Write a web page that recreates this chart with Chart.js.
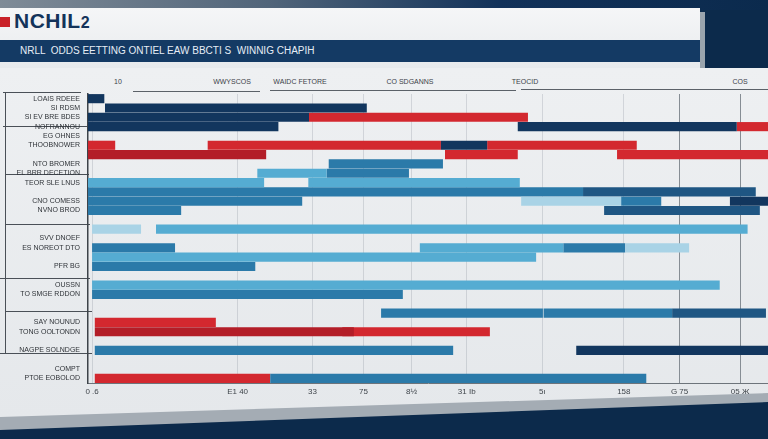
<!DOCTYPE html>
<html>
<head>
<meta charset="utf-8">
<title>NRLL odds chart</title>
<script src="https://cdn.jsdelivr.net/npm/chart.js@4.4.0/dist/chart.umd.min.js"></script>
<style>
  html, body { margin: 0; padding: 0; }
  body { width: 768px; height: 439px; overflow: hidden; position: relative; background: #0c2a4b; font-family: 'Liberation Sans', Arial, sans-serif; }
  .abs { position: absolute; }
  #topstrip { left: 0; top: 0; width: 768px; height: 10px; background: linear-gradient(90deg, #7f8b97 0%, #51657a 35%, #12325a 65%, #0b2a4d 100%); }
  #header { left: 0; top: 8px; width: 700px; height: 62px; background: linear-gradient(180deg, #f5f6f7, #e7eaed); }
  #headerEdge { left: 700px; top: 12px; width: 5px; height: 58px; background: #9aa4ad; }
  #logoBlock { left: 0; top: 17px; width: 10px; height: 10px; background: #c92229; }
  #logo { left: 14px; top: 9px; font: bold 21px 'Liberation Sans', Arial, sans-serif; color: #13335a; letter-spacing: 0.5px; }
  #titlebar { left: 0; top: 40px; width: 700px; height: 22px; background: #143a64; color: #e6edf5; font-size: 10px; line-height: 22px; padding-left: 20px; box-sizing: border-box; white-space: pre; }
  #panelBand { left: 0; top: 68px; width: 768px; height: 362px; background: #a4acb4; clip-path: polygon(0 0, 100% 0, 100% 334px, 0 362px); }
  #panel { left: 0; top: 68px; width: 768px; height: 349px; background: linear-gradient(180deg, #eef0f2, #e5e8eb); clip-path: polygon(0 0, 100% 0, 100% 325px, 0 349px); }
  .hdr { top: 78px; font-size: 7px; color: #3c4248; transform: translateX(-50%); white-space: nowrap; }
  .uline { height: 1px; background: #5b6168; }
  .hline { height: 1px; background: #4a5057; }
  .vline { width: 1px; background: #4a5057; }
  #wrap { left: 0; top: 70px; width: 768px; height: 345px; }
</style>
</head>
<body>
<div class="abs" id="topstrip"></div>
<div class="abs" id="header"></div>
<div class="abs" id="headerEdge"></div>
<div class="abs" id="logoBlock"></div>
<div class="abs" id="logo">NCHIL<span style="font-size:16px">2</span></div>
<div class="abs" id="titlebar">NRLL  ODDS EETTING ONTIEL EAW BBCTI S  WINNIG CHAPIH</div>
<div class="abs" id="panelBand"></div>
<div class="abs" id="panel"></div>

<div class="abs hdr" style="left:118px">10</div>
<div class="abs hdr" style="left:232px">WWYSCOS</div>
<div class="abs hdr" style="left:300px">WAIDC FETORE</div>
<div class="abs hdr" style="left:410px">CO SDGANNS</div>
<div class="abs hdr" style="left:525px">TEOCID</div>
<div class="abs hdr" style="left:740px">COS</div>
<div class="abs uline" style="left:133px; top:91px; width:127px"></div>
<div class="abs uline" style="left:270px; top:90px; width:246px"></div>
<div class="abs uline" style="left:521px; top:89px; width:247px"></div>

<div class="abs hline" style="left:3px; top:92px; width:78px"></div>
<div class="abs hline" style="left:3px; top:126px; width:84px"></div>
<div class="abs hline" style="left:5px; top:174px; width:84px"></div>
<div class="abs hline" style="left:5px; top:224px; width:85px"></div>
<div class="abs hline" style="left:0px; top:278px; width:90px"></div>
<div class="abs hline" style="left:5px; top:311px; width:87px"></div>
<div class="abs hline" style="left:0px; top:353px; width:92px"></div>
<div class="abs vline" style="left:5px; top:92px; height:261px"></div>

<div class="abs" id="wrap"><canvas id="grafico-quote" width="768" height="345"></canvas></div>

<script>
// row labels (left panel), top to bottom
var rowLabels = ['LOAIS RDEEE', 'SI RDSM', 'SI EV BRE BDES', 'NOFRANNOU', 'EG OHNES', 'THOOBNOWER', '',
    'NTO BROMER', 'EL BRR DECETION', 'TEOR SLE LNUS', '', 'CNO COMESS', 'NVNO BROD', '', '',
    'SVV DNOEF', 'ES NOREOT DTO', '', 'PFR BG', '', 'OUSSN', 'TO SMGE RDDON', '', '',
    'SAY NOUNUD', 'TONG OOLTONDN', '', 'NAGPE SOLNDGE', '', 'COMPT', 'PTOE EOBOLOD'];

// bottom axis
var xTickValues = [0.6, 22, 33, 40.5, 47.6, 55.7, 66.8, 78.8, 87, 95.9];
var xTickLabels = ['0 .6', 'E1 40', '33', '75', '8½', '31 Ib', '5ı', '158', 'G 75', '05 Ж'];

// segments: [row, start, end]
var navySegs = [[0, 0, 2.4], [1, 2.5, 41], [2, 0, 32.5], [3, 0, 28], [3, 63.2, 95.4], [5, 51.9, 58.7], [11, 94.4, 100], [27, 71.8, 100]];
var redSegs = [[2, 32.5, 64.7], [3, 95.4, 100], [5, 0, 4], [5, 17.6, 51.9], [5, 58.7, 80.7], [6, 52.5, 63.2], [6, 77.8, 100], [24, 1, 18.8], [25, 37.4, 59.1], [30, 1, 26.8]];
var darkRedSegs = [[6, 0, 26.2], [25, 1, 39.1]];
var steelSegs = [[7, 35.4, 52.2], [8, 35.1, 47.2], [10, 0, 72.8], [11, 0, 31.5], [11, 78.4, 84.3], [12, 0, 13.7], [16, 0.6, 12.8], [16, 69.9, 79], [18, 0.6, 24.6], [21, 0.6, 46.3], [23, 43.1, 66.9], [23, 67, 85.9], [27, 1, 53.7], [30, 26.8, 82.1]];
var deepBlueSegs = [[10, 72.8, 98.2], [12, 75.9, 98.8], [23, 85.9, 99.7]];
var lightSegs = [[8, 24.9, 35.1], [9, 0, 25.9], [9, 32.4, 63.5], [14, 10, 97], [16, 48.8, 69.9], [17, 0.6, 65.9], [20, 0.6, 92.9]];
var paleSegs = [[11, 63.7, 78.4], [14, 0.6, 7.8], [16, 79, 88.4]];

function toBars(segs) {
    var out = [];
    for (var i = 0; i < segs.length; i++) {
        out.push({ y: 'r' + segs[i][0], x: [segs[i][1], segs[i][2]] });
    }
    return out;
}

function serie(segs, colore) {
    return {
        data: toBars(segs),
        backgroundColor: colore,
        borderWidth: 0,
        grouped: false,
        categoryPercentage: 1,
        barPercentage: 0.98
    };
}

var rowKeys = [];
for (var i = 0; i < rowLabels.length; i++) {
    rowKeys.push('r' + i);
}

var ctx = document.getElementById('grafico-quote');
var chart = new Chart(ctx, {
    type: 'bar',
    data: {
        labels: rowKeys,
        datasets: [
            serie(lightSegs, '#55acd2'),
            serie(paleSegs, '#a9d3e6'),
            serie(steelSegs, '#2b7aa9'),
            serie(deepBlueSegs, '#1f5683'),
            serie(navySegs, '#12365e'),
            serie(darkRedSegs, '#b31e28'),
            serie(redSegs, '#d3282f')
        ]
    },
    options: {
        indexAxis: 'y',
        responsive: false,
        animation: false,
        devicePixelRatio: 1,
        layout: { padding: { top: 24, right: 0, bottom: 0, left: 0 } },
        plugins: {
            legend: { display: false },
            title: { display: false },
            tooltip: { enabled: false }
        },
        scales: {
            x: {
                type: 'linear',
                min: 0,
                max: 100,
                afterBuildTicks: function (scale) {
                    scale.ticks = xTickValues.map(function (v) { return { value: v }; });
                },
                afterFit: function (scale) { scale.height = 32; },
                ticks: {
                    autoSkip: false,
                    maxRotation: 0,
                    padding: 4,
                    color: '#40464c',
                    font: { family: "'Liberation Sans', Arial, sans-serif", size: 8 },
                    callback: function (v, i) { return xTickLabels[i]; }
                },
                grid: {
                    drawTicks: false,
                    color: function (c) {
                        if (!c.tick) return 'rgba(0,0,0,0)';
                        if (c.tick.value > 85) return '#868d94';
                        return 'rgba(110,120,130,0.22)';
                    }
                },
                border: { display: true, color: '#6d747b', width: 1 }
            },
            y: {
                type: 'category',
                afterFit: function (scale) { scale.width = 88; },
                ticks: {
                    autoSkip: false,
                    padding: 8,
                    color: '#2f3338',
                    font: { family: "'Liberation Sans Narrow', 'Liberation Sans', Arial, sans-serif", size: 7 },
                    callback: function (v, i) { return rowLabels[i]; }
                },
                grid: { display: false, drawTicks: false },
                border: { display: true, color: '#3d4349', width: 1.5 }
            }
        }
    }
});
</script>
</body>
</html>
